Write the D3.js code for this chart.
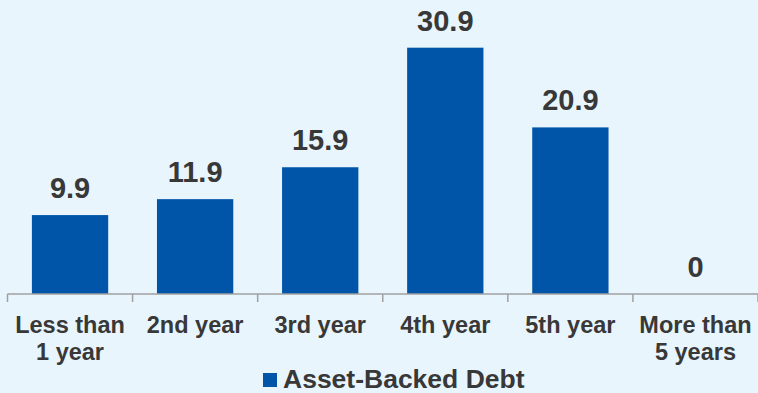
<!DOCTYPE html>
<html>
<head>
<meta charset="utf-8">
<script src="https://cdn.jsdelivr.net/npm/d3@7"></script>
<style>
  html, body { margin: 0; padding: 0; background: #e8f5fd; }
  svg { display: block; }
</style>
</head>
<body>
<svg id="chart" width="758" height="393"></svg>
<script>
const categories = ["Less than\n1 year", "2nd year", "3rd year", "4th year", "5th year", "More than\n5 years"];
const values = [9.9, 11.9, 15.9, 30.9, 20.9, 0];
const valueLabels = ["9.9", "11.9", "15.9", "30.9", "20.9", "0"];
const seriesName = "Asset-Backed Debt";

const W = 758, H = 393;
const svg = d3.select("#chart");
svg.append("rect").attr("width", W).attr("height", H).attr("fill", "#e8f5fd");

const font = "'Liberation Sans', Arial, Helvetica, sans-serif";
const textColor = "#383838";
const barColor = "#0055a8";

const x = d3.scaleBand().domain(categories).range([7.5, 758]).paddingInner(0.39).paddingOuter(0.195);
const y = d3.scaleLinear().domain([0, 35]).range([294, 15]);

const g = svg.append("g");

g.selectAll("rect.bar").data(values).join("rect")
  .attr("class", "bar")
  .attr("x", (d, i) => x(categories[i]))
  .attr("width", x.bandwidth())
  .attr("y", d => y(d))
  .attr("height", d => y(0) - y(d))
  .attr("fill", barColor);

g.selectAll("text.val").data(values).join("text")
  .attr("class", "val")
  .attr("x", (d, i) => x(categories[i]) + x.bandwidth() / 2)
  .attr("y", d => y(d) - 17)
  .attr("text-anchor", "middle")
  .attr("font-family", font)
  .attr("font-weight", "bold")
  .attr("font-size", 29)
  .attr("fill", textColor)
  .text((d, i) => valueLabels[i]);

// axis
const step = x.step();
const tickXs = d3.range(categories.length + 1).map(i => 7.5 + i * step);
const axis = g.append("g");
axis.append("line")
  .attr("x1", 7.5).attr("x2", 758)
  .attr("y1", y(0)).attr("y2", y(0))
  .attr("stroke", "#a0a0a0").attr("stroke-width", 1.5);
axis.selectAll("line.tick").data(tickXs).join("line")
  .attr("class", "tick")
  .attr("x1", d => d).attr("x2", d => d)
  .attr("y1", y(0)).attr("y2", y(0) + 8)
  .attr("stroke", "#a0a0a0").attr("stroke-width", 1.5);

// category labels
const cat = g.selectAll("text.cat").data(categories).join("text")
  .attr("class", "cat")
  .attr("text-anchor", "middle")
  .attr("font-family", font)
  .attr("font-weight", "bold")
  .attr("font-size", 23.5)
  .attr("fill", textColor);
cat.each(function(d) {
  const t = d3.select(this);
  const cx = x(d) + x.bandwidth() / 2;
  d.split("\n").forEach((line, k) => {
    t.append("tspan").attr("x", cx).attr("y", 333 + k * 27).text(line);
  });
});

// legend
const lg = svg.append("g");
lg.append("rect").attr("x", 263).attr("y", 373).attr("width", 14).attr("height", 14).attr("fill", barColor);
lg.append("text").attr("x", 283).attr("y", 387.5)
  .attr("font-family", font).attr("font-weight", "bold").attr("font-size", 26.5)
  .attr("fill", textColor).text(seriesName);
</script>
</body>
</html>
